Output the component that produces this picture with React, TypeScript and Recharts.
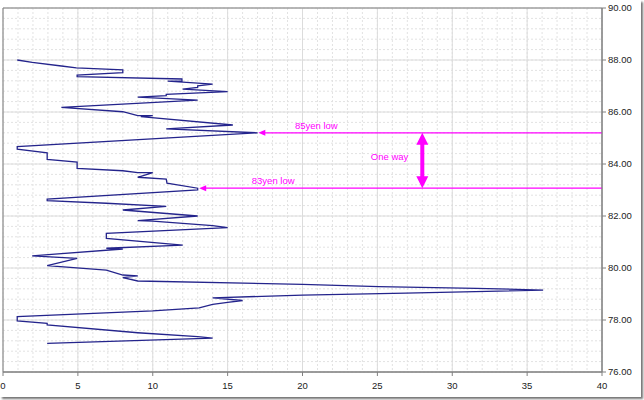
import React from "react";
import {
  ComposedChart,
  Scatter,
  XAxis,
  YAxis,
  CartesianGrid,
  ReferenceLine,
  ReferenceArea,
} from "recharts";

// profile values (x = count, y = price level), top to bottom
const profileX = [
  0.95, 1.95, 3.9, 4.9, 8.0, 8.0, 4.95, 4.95, 11.95, 11.95, 11.0, 14.0, 13.0, 13.0, 12.0, 15.0,
  10.9, 10.9, 9.0, 13.0, 3.9, 8.0, 9.0, 10.0, 9.2, 15.35, 10.9, 17.0, 0.95, 0.95, 2.95, 2.95,
  4.95, 4.95, 8.0, 9.0, 10.0, 9.0, 10.9, 10.95, 13.0, 13.0, 2.95, 2.95, 6.9, 10.9, 8.0, 13.0,
  9.0, 10.0, 14.0, 15.0, 6.9, 6.9, 12.0, 6.9, 8.0, 1.95, 4.95, 2.95, 6.9, 8.0, 9.0, 8.0, 9.0,
  20.0, 25.1, 31.6, 36.07, 26.9, 20.0, 14.0, 16.0, 15.0, 14.0, 13.1, 10.0, 0.95, 0.95, 2.95,
  2.95, 9.0, 13.0, 14.0, 2.95,
];
const profileY = [
  88.0, 87.91, 87.77, 87.7, 87.62, 87.51, 87.42, 87.36, 87.27, 87.19, 87.19, 87.07, 87.01, 86.95,
  86.88, 86.78, 86.68, 86.63, 86.57, 86.46, 86.18, 86.01, 85.86, 85.86, 85.82, 85.5, 85.35, 85.2,
  84.67, 84.57, 84.43, 84.18, 84.07, 83.83, 83.74, 83.67, 83.67, 83.49, 83.42, 83.26, 83.07, 83.0,
  82.65, 82.59, 82.49, 82.37, 82.23, 82.0, 81.82, 81.8, 81.63, 81.55, 81.33, 81.14, 80.88, 80.76,
  80.73, 80.47, 80.37, 80.09, 79.92, 79.73, 79.7, 79.63, 79.5, 79.37, 79.28, 79.22, 79.15, 79.03,
  78.96, 78.85, 78.75, 78.68, 78.6, 78.47, 78.35, 78.13, 77.97, 77.87, 77.81, 77.51, 77.36, 77.3,
  77.1,
];

const xDomain = [0, 40];
const yDomain = [76, 90];
const xTicks = [0, 5, 10, 15, 20, 25, 30, 35, 40];
const yTicks = [76, 78, 80, 82, 84, 86, 88, 90];
const xMinorTicks = Array.from({ length: 41 }, (_, i) => i);
const yMinorTicks = Array.from({ length: 36 }, (_, i) => 76 + i * 0.4);

// annotation levels
const low85 = { y: 85.2, fromX: 17.05, label: "85yen low" };
const low83 = { y: 83.07, fromX: 13.1, label: "83yen low" };
const oneWayX = 28;

const points = profileX.map((x, i) => ({ x, y: profileY[i] }));

const MAGENTA = "#ff00ff";
const FONT = "'Liberation Sans', Arial, sans-serif";

function LevelArrow(props: any, label: string, labelDx: number) {
  const { x1, y1, x2 } = props;
  const left = Math.min(x1, x2);
  const right = Math.max(x1, x2);
  return (
    <g>
      <line x1={left + 4} y1={y1} x2={right} y2={y1} stroke={MAGENTA} strokeWidth={1.3} />
      <polygon
        points={`${left},${y1} ${left + 7},${y1 - 3} ${left + 7},${y1 + 3}`}
        fill={MAGENTA}
      />
      <text x={left + labelDx} y={y1 - 4} fill={MAGENTA} fontSize={9.5} fontFamily={FONT} textAnchor="middle">
        {label}
      </text>
    </g>
  );
}

function OneWayArrow(props: any) {
  const { x1, y1, y2 } = props;
  const top = Math.min(y1, y2);
  const bot = Math.max(y1, y2);
  const head = 12;
  const hw = 6;
  const sw = 2;
  const pts = [
    [x1, top],
    [x1 + hw, top + head],
    [x1 + sw, top + head],
    [x1 + sw, bot - head],
    [x1 + hw, bot - head],
    [x1, bot],
    [x1 - hw, bot - head],
    [x1 - sw, bot - head],
    [x1 - sw, top + head],
    [x1 - hw, top + head],
  ]
    .map((p) => p.join(","))
    .join(" ");
  return (
    <g>
      <polygon points={pts} fill={MAGENTA} />
      <text x={x1 - 14} y={(top + bot) / 2} fill={MAGENTA} fontSize={9.5} fontFamily={FONT} textAnchor="end">
        One way
      </text>
    </g>
  );
}

// minor grid positions, mapped linearly over the plot area
const minorV = ({ offset }: any) =>
  xMinorTicks.map(
    (t) => offset.left + ((t - xDomain[0]) / (xDomain[1] - xDomain[0])) * offset.width
  );
const minorH = ({ offset }: any) =>
  yMinorTicks.map(
    (t) => offset.top + ((yDomain[1] - t) / (yDomain[1] - yDomain[0])) * offset.height
  );

export default function App() {
  return (
    <div
      style={{
        position: "absolute",
        left: 0,
        top: 0,
        width: 641,
        height: 397,
        background: "#fff",
        boxShadow: "2px 2px 2px rgba(0,0,0,0.55)",
      }}
    >
      <ComposedChart
        width={644}
        height={400}
        margin={{ top: 8, left: 3, right: 0, bottom: 0 }}
        style={{ fontFamily: FONT }}
      >
        <XAxis
          type="number"
          dataKey="x"
          domain={xDomain}
          ticks={xTicks}
          height={28}
          tickSize={4}
          axisLine={{ stroke: "#808080" }}
          tickLine={{ stroke: "#808080" }}
          tick={{ fill: "#222", fontSize: 9.5, fontFamily: FONT, dy: 4 }}
        />
        <YAxis
          type="number"
          dataKey="y"
          domain={yDomain}
          ticks={yTicks}
          orientation="right"
          width={42}
          tickSize={4}
          axisLine={{ stroke: "#808080" }}
          tickLine={{ stroke: "#808080" }}
          tickFormatter={(v: number) => v.toFixed(2)}
          tick={{ fill: "#222", fontSize: 9.5, fontFamily: FONT }}
        />
        <CartesianGrid
          stroke="#e2e2e2"
          strokeDasharray="2 2"
          verticalCoordinatesGenerator={minorV}
          horizontalCoordinatesGenerator={minorH}
        />
        <CartesianGrid stroke="#dcdcdc" />
        <ReferenceArea x1={0} x2={40} y1={76} y2={90} fill="none" stroke="#808080" />
        <ReferenceLine
          segment={[
            { x: low85.fromX, y: low85.y },
            { x: 40, y: low85.y },
          ]}
          shape={(p: any) => LevelArrow(p, low85.label, 58)}
        />
        <ReferenceLine
          segment={[
            { x: low83.fromX, y: low83.y },
            { x: 40, y: low83.y },
          ]}
          shape={(p: any) => LevelArrow(p, low83.label, 74)}
        />
        <ReferenceLine
          segment={[
            { x: oneWayX, y: low85.y },
            { x: oneWayX, y: low83.y },
          ]}
          shape={(p: any) => OneWayArrow(p)}
        />
        <Scatter
          data={points}
          line={{ stroke: "#24248c", strokeWidth: 1.3 }}
          shape={() => <g />}
          isAnimationActive={false}
        />
      </ComposedChart>
    </div>
  );
}
